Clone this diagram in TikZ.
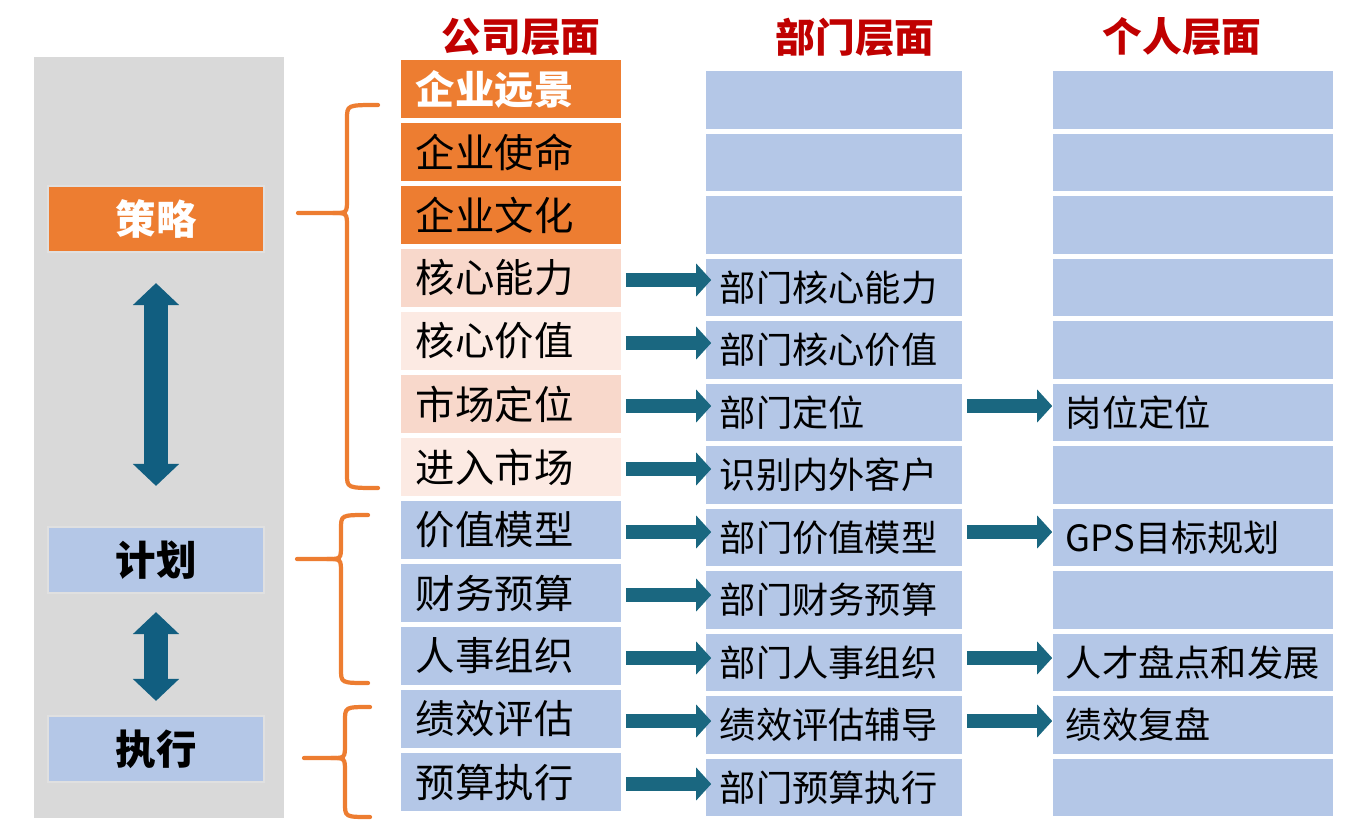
\documentclass[tikz,border=0pt]{standalone}
\usepackage{fontspec}
\setmainfont{Noto Sans CJK SC}
\usepackage{xcolor}
\usetikzlibrary{arrows.meta,calc}
\definecolor{orangebox}{HTML}{ED7D31}
\definecolor{pinkbox}{HTML}{F8D8CB}
\definecolor{palebox}{HTML}{FCEAE3}
\definecolor{bluebox}{HTML}{B4C7E7}
\definecolor{panelgray}{HTML}{D9D9D9}
\definecolor{arrowteal}{HTML}{1A6780}
\definecolor{arrowblue}{HTML}{115E80}
\definecolor{headred}{HTML}{C00000}
\definecolor{braceorange}{HTML}{ED7D31}
\tikzset{
  levelhead/.style={text=headred, font=\fontsize{11.3pt}{13pt}\selectfont\bfseries},
  stagebox/.style={minimum width=2.16cm, minimum height=0.66cm, inner sep=0pt, draw=black!12, line width=0.6pt, font=\fontsize{11.5pt}{13pt}\selectfont\bfseries},
  compbox/.style={minimum width=2.2cm, minimum height=0.58cm, inner xsep=0.15cm, inner ysep=0pt, text width=1.9cm, align=left, font=\fontsize{11.2pt}{13pt}\selectfont},
  deptbox/.style={fill=bluebox, minimum width=2.56cm, minimum height=0.57cm, inner xsep=0.14cm, inner ysep=0pt, text width=2.28cm, align=left, font=\fontsize{10.3pt}{12pt}\selectfont},
  persbox/.style={fill=bluebox, minimum width=2.8cm, minimum height=0.57cm, inner xsep=0.13cm, inner ysep=0pt, text width=2.54cm, align=left, font=\fontsize{10.3pt}{12pt}\selectfont},
  flowarrow/.style={arrowteal, line width=0.14cm, -{Triangle[width=0.32cm, length=0.15cm]}},
  stagearrow/.style={arrowblue, line width=0.23cm, {Triangle[width=0.45cm, length=0.22cm]}-{Triangle[width=0.45cm, length=0.22cm]}},
  bracket/.style={braceorange, line width=1.2pt, line cap=round}
}
\begin{document}
\begin{tikzpicture}[x=0.01cm, y=-0.01cm]
	\useasboundingbox (0,0) rectangle (1349,821);
	% left panel
	\fill[panelgray] (34,57) rectangle (284,818);
	\node[stagebox, fill=orangebox, text=white] (celue) at (156,219) {策略};
	\node[stagebox, fill=bluebox] (jihua) at (156,560) {计划};
	\node[stagebox, fill=bluebox] (zhixing) at (156,749) {执行};
	\draw[stagearrow] ([shift={(0,30)}]celue.south) -- ([shift={(0,-40)}]jihua.north);
	\draw[stagearrow] ([shift={(0,18)}]jihua.south) -- ([shift={(0,-14)}]zhixing.north);

	% headers
	\node[levelhead] (hcomp) at (521,37) {公司层面};
	\node[levelhead] (hdept) at (855,37) {部门层面};
	\node[levelhead] (hpers) at (1182,37) {个人层面};

	% company level
	\node[compbox, fill=orangebox, text=white, font=\fontsize{11.2pt}{13pt}\selectfont\bfseries] (yuanjing) at (511,89) {企业远景};
	\node[compbox, fill=orangebox] (shiming) at (511,152) {企业使命};
	\node[compbox, fill=orangebox] (wenhua) at (511,215) {企业文化};
	\node[compbox, fill=pinkbox] (nengli) at (511,278) {核心能力};
	\node[compbox, fill=palebox] (jiazhi) at (511,341) {核心价值};
	\node[compbox, fill=pinkbox] (dingwei) at (511,404) {市场定位};
	\node[compbox, fill=palebox] (jinru) at (511,467) {进入市场};
	\node[compbox, fill=bluebox] (moxing) at (511,530) {价值模型};
	\node[compbox, fill=bluebox] (caiwu) at (511,593) {财务预算};
	\node[compbox, fill=bluebox] (renshi) at (511,656) {人事组织};
	\node[compbox, fill=bluebox] (pinggu) at (511,719) {绩效评估};
	\node[compbox, fill=bluebox] (yusuan) at (511,782) {预算执行};

	% department level
	\node[deptbox] (d1) at (834,100) {};
	\node[deptbox] (d2) at (834,162.5) {};
	\node[deptbox] (d3) at (834,225) {};
	\node[deptbox] (dnengli) at (834,287.5) {部门核心能力};
	\node[deptbox] (djiazhi) at (834,350) {部门核心价值};
	\node[deptbox] (ddingwei) at (834,412.5) {部门定位};
	\node[deptbox] (dkehu) at (834,475) {识别内外客户};
	\node[deptbox] (dmoxing) at (834,537.5) {部门价值模型};
	\node[deptbox] (dcaiwu) at (834,600) {部门财务预算};
	\node[deptbox] (drenshi) at (834,662.5) {部门人事组织};
	\node[deptbox] (dfudao) at (834,725) {绩效评估辅导};
	\node[deptbox] (dyusuan) at (834,787.5) {部门预算执行};

	% personal level
	\node[persbox] (p1) at (1193,100) {};
	\node[persbox] (p2) at (1193,162.5) {};
	\node[persbox] (p3) at (1193,225) {};
	\node[persbox] (p4) at (1193,287.5) {};
	\node[persbox] (p5) at (1193,350) {};
	\node[persbox] (pgangwei) at (1193,412.5) {岗位定位};
	\node[persbox] (p7) at (1193,475) {};
	\node[persbox] (pgps) at (1193,537.5) {GPS目标规划};
	\node[persbox] (p9) at (1193,600) {};
	\node[persbox] (prencai) at (1193,662.5) {人才盘点和发展};
	\node[persbox] (pfupan) at (1193,725) {绩效复盘};
	\node[persbox] (p12) at (1193,787.5) {};

	% arrows company -> department
	\draw[flowarrow] ($(nengli.east)+(4,2)$) -- ($(nengli.east -| dnengli.west)+(6,2)$);
	\draw[flowarrow] ($(jiazhi.east)+(4,2)$) -- ($(jiazhi.east -| djiazhi.west)+(6,2)$);
	\draw[flowarrow] ($(dingwei.east)+(4,2)$) -- ($(dingwei.east -| ddingwei.west)+(6,2)$);
	\draw[flowarrow] ($(jinru.east)+(4,2)$) -- ($(jinru.east -| dkehu.west)+(6,2)$);
	\draw[flowarrow] ($(moxing.east)+(4,2)$) -- ($(moxing.east -| dmoxing.west)+(6,2)$);
	\draw[flowarrow] ($(caiwu.east)+(4,2)$) -- ($(caiwu.east -| dcaiwu.west)+(6,2)$);
	\draw[flowarrow] ($(renshi.east)+(4,2)$) -- ($(renshi.east -| drenshi.west)+(6,2)$);
	\draw[flowarrow] ($(pinggu.east)+(4,2)$) -- ($(pinggu.east -| dfudao.west)+(6,2)$);
	\draw[flowarrow] ($(yusuan.east)+(4,2)$) -- ($(yusuan.east -| dyusuan.west)+(6,2)$);
	% arrows department -> personal
	\draw[flowarrow] ($(dingwei.east -| ddingwei.east)+(4,2)$) -- ($(dingwei.east -| pgangwei.west)+(0,2)$);
	\draw[flowarrow] ($(moxing.east -| dmoxing.east)+(4,2)$) -- ($(moxing.east -| pgps.west)+(0,2)$);
	\draw[flowarrow] ($(renshi.east -| drenshi.east)+(4,2)$) -- ($(renshi.east -| prencai.west)+(0,2)$);
	\draw[flowarrow] ($(pinggu.east -| dfudao.east)+(4,2)$) -- ($(pinggu.east -| pfupan.west)+(0,2)$);

	% braces
	\draw[bracket] (378,105) .. controls (347,105) .. (347,119) -- (347,199) .. controls (347,213) .. (333,213) -- (298,213);
	\draw[bracket] (333,213) .. controls (347,213) .. (347,227) -- (347,474) .. controls (347,488) .. (378,488);
	\draw[bracket] (368,515) .. controls (341,515) .. (341,529) -- (341,545) .. controls (341,559) .. (327,559) -- (297,559);
	\draw[bracket] (327,559) .. controls (341,559) .. (341,573) -- (341,669) .. controls (341,683) .. (368,683);
	\draw[bracket] (370,707) .. controls (345,707) .. (345,721) -- (345,744) .. controls (345,758) .. (331,758) -- (304,758);
	\draw[bracket] (331,758) .. controls (345,758) .. (345,772) -- (345,803) .. controls (345,817) .. (370,817);
\end{tikzpicture}
\end{document}
